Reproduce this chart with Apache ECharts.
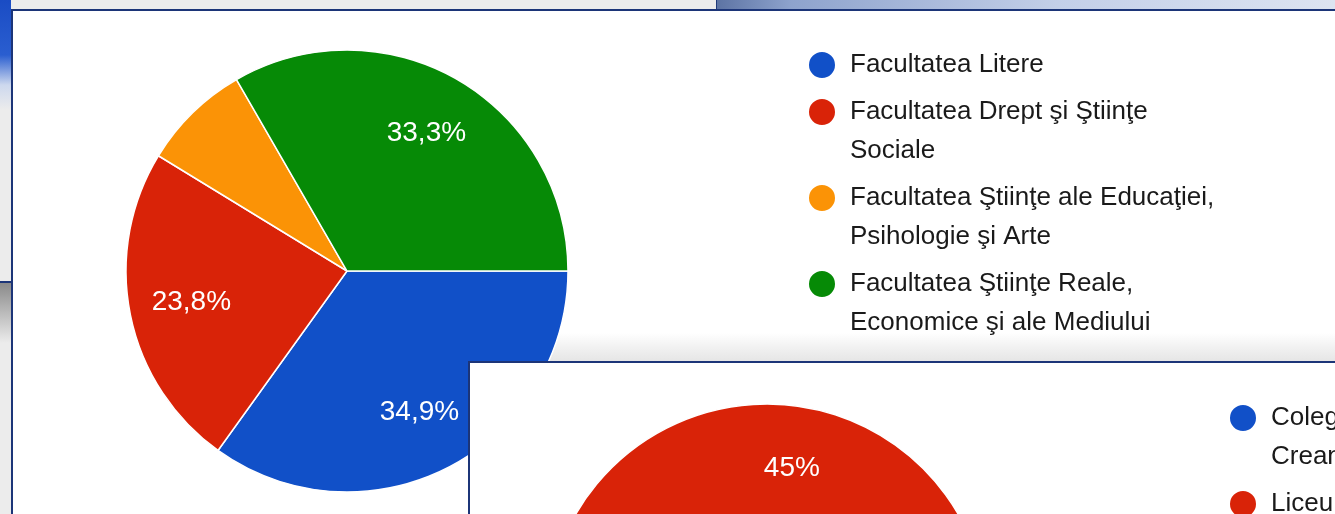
<!DOCTYPE html>
<html>
<head>
<meta charset="utf-8">
<script src="https://cdn.jsdelivr.net/npm/echarts@6/dist/echarts.min.js"></script>
<style>
  body { margin: 0; width: 1335px; height: 514px; overflow: hidden; position: relative; background: #ececec; }
  .abs { position: absolute; }
  #topPhoto { left: 717px; top: 0; width: 618px; height: 9px; background: linear-gradient(90deg, #5d74a4 0%, #8ea3cd 12%, #c3cfe8 55%, #dde4f1 100%); }
  #topLine { left: 716px; top: 0; width: 1px; height: 9px; background: #203a7a; }
  #leftBlue { left: 0; top: 0; width: 11px; height: 110px; background: linear-gradient(180deg, #1a4cc4 0px, #2a5ed0 55px, #cdd8ee 85px, #ececec 110px); }
  #leftLine { left: 0; top: 281px; width: 11px; height: 2px; background: #1c3578; }
  #leftGrad { left: 0; top: 283px; width: 11px; height: 60px; background: linear-gradient(180deg, #8a8a8a, #ececec); }
  #panel1 { left: 11px; top: 9px; width: 1330px; height: 510px; border: 2px solid #1c3578; background: #fff; }
  #band { left: 447px; top: 322px; width: 900px; height: 30px; background: linear-gradient(180deg, #ffffff 0%, #f2f2f2 45%, #e4e4e4 100%); }
  #chart1 { left: 0; top: 0; width: 1322px; height: 503px; }
  #panel2 { left: 468px; top: 361px; width: 880px; height: 160px; border: 2px solid #1c3578; background: #fff; }
  #chart2 { left: 0; top: 0; width: 865px; height: 151px; }
</style>
</head>
<body>
<div id="topPhoto" class="abs"></div>
<div id="topLine" class="abs"></div>
<div id="leftBlue" class="abs"></div>
<div id="leftLine" class="abs"></div>
<div id="leftGrad" class="abs"></div>
<div id="panel1" class="abs">
  <div id="band" class="abs"></div>
  <div id="chart1" class="abs"></div>
</div>
<div id="panel2" class="abs">
  <div id="chart2" class="abs"></div>
</div>
<script>
// facultăţi (graficul de sus)
const facultyLines = [
  ['Facultatea Litere'],
  ['Facultatea Drept şi Ştiinţe', 'Sociale'],
  ['Facultatea Ştiinţe ale Educaţiei,', 'Psihologie şi Arte'],
  ['Facultatea Ştiinţe Reale,', 'Economice şi ale Mediului']
]
const facultyValues = [44, 30, 10, 42]
const facultyColors = ['#1150c8', '#d92308', '#fb9306', '#068a06']

// instituţii (graficul de jos, tăiat de margine)
const schoolLines = [
  ['Colegiul Pedagogic „Ion', 'Creangă"'],
  ['Liceul']
]
const schoolValues = [55, 45]
const schoolColors = ['#1150c8', '#d92308']

const FONT = '"Liberation Sans", Arial, sans-serif'

function pct(p) {
  if (p < 10) return ''
  return (Math.round(p * 10) / 10).toString().replace('.', ',') + '%'
}

function buildOption(lines, values, colors, center, radius, legendPos, padSingle) {
  const names = lines.map(l => l.join(' '))
  const data = names.map((n, i) => ({ name: n, value: values[i] }))
  const lookup = {}
  names.forEach((n, i) => { lookup[n] = lines[i] })
  return {
    animation: false,
    color: colors,
    legend: {
      orient: 'vertical',
      left: legendPos[0],
      top: legendPos[1],
      height: 600, // keep one column even when it runs off the panel
      padding: 0,
      itemGap: -31,
      itemWidth: 46,
      itemHeight: 28,
      icon: 'circle',
      selectedMode: false,
      data: names,
      // first line sits level with the marker
      formatter: function(name) {
        const l = lookup[name]
        if (l.length > 1) return '\n' + l.join('\n')
        return padSingle ? '\n' + l[0] + '\n' : l[0]
      },
      textStyle: { fontSize: 26, lineHeight: 39, color: '#1a1a1a', fontFamily: FONT }
    },
    series: [{
      type: 'pie',
      center: center,
      radius: radius,
      startAngle: 0,
      clockwise: true,
      silent: true,
      label: { show: false },
      labelLine: { show: false },
      itemStyle: { borderColor: '#ffffff', borderWidth: 1.5 },
      data: data
    }, {
      // transparent ring only to push the labels out to ~72% of the radius
      type: 'pie',
      center: center,
      radius: [radius * 0.41, radius],
      startAngle: 0,
      clockwise: true,
      silent: true,
      z: 3,
      avoidLabelOverlap: false,
      itemStyle: { color: 'rgba(0,0,0,0)' },
      label: {
        show: true,
        position: 'inside',
        color: '#ffffff',
        fontSize: 28,
        fontFamily: FONT,
        formatter: function(p) { return pct(p.percent) }
      },
      labelLine: { show: false },
      data: data
    }]
  }
}

const chart1 = echarts.init(document.getElementById('chart1'))
chart1.setOption(buildOption(facultyLines, facultyValues, facultyColors, [334, 260], 221, [794, 34.5], false))

const chart2 = echarts.init(document.getElementById('chart2'))
chart2.setOption(buildOption(schoolLines, schoolValues, schoolColors, [297, 262], 221, [758, -3.5], true))
</script>
</body>
</html>
